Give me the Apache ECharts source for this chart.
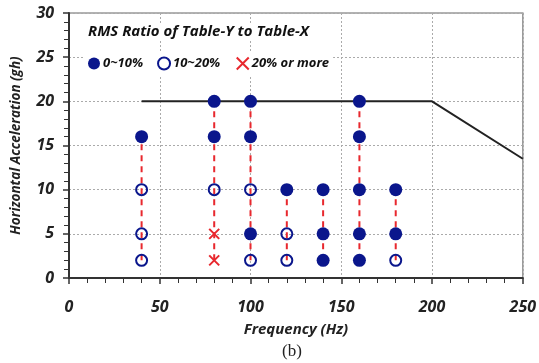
<!DOCTYPE html>
<html><head><meta charset="utf-8">
<script src="https://cdn.jsdelivr.net/npm/echarts@6/dist/echarts.min.js"></script>
<style>html,body{margin:0;padding:0;background:#fff}#c{width:539px;height:363px}</style>
</head><body><div id="c"></div>
<script>
// Data
const filledPts = [[40,16],[80,20],[80,16],[100,20],[100,16],[100,5],[120,10],[140,10],[140,5],[140,2],[160,20],[160,16],[160,10],[160,5],[160,2],[180,10],[180,5]];
const openPts = [[40,10],[40,5],[40,2],[80,10],[100,10],[100,2],[120,5],[120,2],[180,2]];
const crossPts = [[80,5],[80,2]];
const limitFreq = [40,200,250];
const limitAcc = [20,20,13.5];
const xTicks = [0,50,100,150,200,250];
const yTicks = [0,5,10,15,20,25,30];
const legendNames = ['0~10%','10~20%','20% or more'];

const FONT = 'Open Sans';
const BLUE = '#0a168c';
const RED = '#e8282e';
const CROSS = 'path://M0,0L10,10M10,0L0,10';

// vertical dashed lines per frequency, from min to max level
const all = filledPts.concat(openPts, crossPts);
const freqs = [...new Set(all.map(p => p[0]))].sort((a,b)=>a-b);
const dashSeries = freqs.map(f => {
  const ys = all.filter(p => p[0] === f).map(p => p[1]);
  return {
    type: 'line', silent: true, symbol: 'none', z: 1,
    data: [[f, Math.min(...ys)], [f, Math.max(...ys)]],
    lineStyle: {color: RED, width: 2, type: [6, 5]}
  };
});

const chart = echarts.init(document.getElementById('c'));
const labelFont = {fontFamily: FONT, fontWeight: 'bold', fontStyle: 'italic', color: '#222'};
chart.setOption({
  animation: false,
  backgroundColor: '#fff',
  grid: {left: 69, right: 15, top: 13, bottom: 85, show: true, borderColor: '#999', borderWidth: 1.5},
  title: {
    text: 'RMS Ratio of Table-Y to Table-X', left: 84, top: 23,
    backgroundColor: '#fff', padding: [1, 4],
    textStyle: Object.assign({fontSize: 15}, labelFont, {color: '#111'})
  },
  legend: {
    data: [
      {name: legendNames[0], icon: 'circle', itemStyle: {color: BLUE, borderWidth: 0}},
      {name: legendNames[1], icon: 'circle', itemStyle: {color: '#fff', borderColor: BLUE, borderWidth: 2}},
      {name: legendNames[2], icon: CROSS, itemStyle: {color: 'none', borderColor: RED, borderWidth: 2}}
    ],
    left: 84, top: 52, itemWidth: 12, itemHeight: 12, itemGap: 14,
    backgroundColor: '#fff', padding: [3, 4],
    textStyle: Object.assign({fontSize: 13, padding: [0,0,0,-2]}, labelFont, {color: '#111'})
  },
  xAxis: {
    type: 'value', min: 0, max: 250, interval: 50,
    name: 'Frequency (Hz)', nameLocation: 'middle', nameGap: 44,
    nameTextStyle: Object.assign({fontSize: 15}, labelFont),
    axisLine: {lineStyle: {color: '#333', width: 2}},
    axisTick: {show: true, inside: false, length: 6, lineStyle: {color: '#333', width: 1.5}},
    minorTick: {show: true, splitNumber: 5, length: 5, lineStyle: {color: '#333', width: 1}},
    axisLabel: Object.assign({fontSize: 16, margin: 21, formatter: v => xTicks.includes(v) ? String(v) : ''}, labelFont),
    splitLine: {show: true, lineStyle: {color: '#aaa', type: [2, 2], width: 1}}
  },
  yAxis: {
    type: 'value', min: 0, max: 30, interval: 5,
    name: 'Horizontal Acceleration (gh)', nameLocation: 'middle', nameGap: 46, nameRotate: 90,
    nameTextStyle: Object.assign({fontSize: 13.5}, labelFont),
    axisLine: {show: true, lineStyle: {color: '#333', width: 2}},
    axisTick: {show: true, inside: false, length: 6, lineStyle: {color: '#333', width: 1.5}},
    minorTick: {show: true, splitNumber: 5, length: 5, lineStyle: {color: '#333', width: 1}},
    axisLabel: Object.assign({fontSize: 16, margin: 15, formatter: v => yTicks.includes(v) ? String(v) : ''}, labelFont),
    splitLine: {show: true, lineStyle: {color: '#aaa', type: [2, 2], width: 1}}
  },
  graphic: [{
    type: 'text', left: 282, top: 343,
    style: {text: '(b)', font: '17px "Liberation Serif"', fill: '#222'}
  }],
  series: dashSeries.concat([
    {type: 'line', silent: true, symbol: 'none', z: 2,
     data: limitFreq.map((f, i) => [f, limitAcc[i]]),
     lineStyle: {color: '#222', width: 2}},
    {name: legendNames[0], type: 'scatter', z: 5, symbol: 'circle', symbolSize: 13,
     data: filledPts, itemStyle: {color: BLUE, opacity: 1}},
    {name: legendNames[1], type: 'scatter', z: 5, symbol: 'circle', symbolSize: 11,
     data: openPts, itemStyle: {color: 'rgba(0,0,0,0)', borderColor: BLUE, borderWidth: 2, opacity: 1}},
    {name: legendNames[2], type: 'scatter', z: 5, symbol: CROSS, symbolSize: 10,
     data: crossPts, itemStyle: {color: 'none', borderColor: RED, borderWidth: 2, opacity: 1}}
  ])
});
</script></body></html>
